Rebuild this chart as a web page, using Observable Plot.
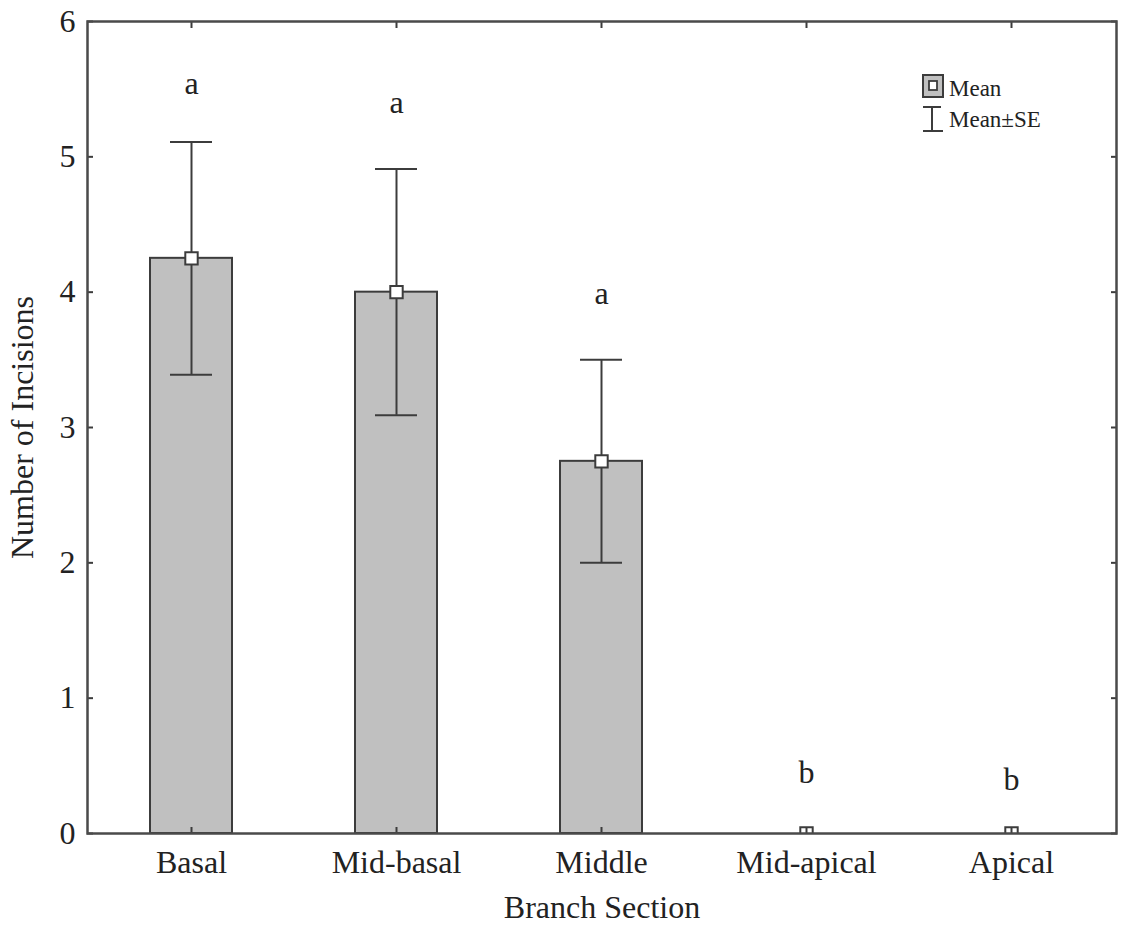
<!DOCTYPE html>
<html>
<head>
<meta charset="utf-8">
<script src="https://cdn.jsdelivr.net/npm/d3@7"></script>
<script src="https://cdn.jsdelivr.net/npm/@observablehq/plot@0.6"></script>
<style>
  html, body { margin: 0; padding: 0; background: #fff; }
  #wrap { position: relative; width: 1121px; height: 926px; }
  #legend { position: absolute; left: 0; top: 0; }
</style>
</head>
<body>
<div id="wrap"></div>
<script>
const sections = ["Basal", "Mid-basal", "Middle", "Mid-apical", "Apical"];
const means = [4.25, 4.0, 2.75, 0, 0];
const seLow = [3.39, 3.09, 2.0, 0, 0];
const seHigh = [5.11, 4.91, 3.5, 0, 0];
const letters = ["a", "a", "a", "b", "b"];
const letterY = [5.54, 5.4, 3.99, 0.45, 0.40];
const yTicks = [0, 1, 2, 3, 4, 5, 6];

const data = sections.map((s, i) => ({
  section: s, mean: means[i], lo: seLow[i], hi: seHigh[i],
  letter: letters[i], ly: letterY[i]
}));
const bars = data.filter(d => d.mean > 0);

const font = "'Liberation Serif', 'Times New Roman', serif";
const dark = "#3c3c3c";

const chart = Plot.plot({
  width: 1121,
  height: 926,
  marginLeft: 87,
  marginRight: 5,
  marginTop: 21,
  marginBottom: 93,
  style: { fontFamily: font, fontSize: "32px", color: "#222", background: "#fff" },
  x: { domain: sections, paddingInner: 0.6, paddingOuter: 0.3 },
  y: { domain: [0, 6] },
  marks: [
    Plot.barY(bars, { x: "section", y: "mean", fill: "#c0c0c0", stroke: dark, strokeWidth: 2 }),
    Plot.ruleX(bars, { x: "section", y1: "lo", y2: "hi", stroke: dark, strokeWidth: 2 }),
    Plot.tickY(bars, { x: "section", y: "lo", stroke: dark, strokeWidth: 2, insetLeft: 20, insetRight: 20 }),
    Plot.tickY(bars, { x: "section", y: "hi", stroke: dark, strokeWidth: 2, insetLeft: 20, insetRight: 20 }),
    Plot.dot(data, { x: "section", y: "mean", symbol: "square", r: 7, fill: "#fff", stroke: dark, strokeWidth: 2, clip: "frame" }),
    Plot.text(data, { x: "section", y: "ly", text: "letter", fontSize: 32, fill: "#222" }),
    Plot.axisY({ anchor: "left", ticks: yTicks, tickFormat: d3.format("d"), tickSize: -6, tickPadding: 18, stroke: dark, strokeWidth: 2,
      label: "Number of Incisions", labelAnchor: "center", labelArrow: "none", labelOffset: 77, fontSize: 32 }),
    Plot.axisY({ anchor: "right", ticks: yTicks, tickSize: -6, tickFormat: () => "", stroke: dark, strokeWidth: 2, label: null }),
    Plot.axisX({ anchor: "top", tickSize: -6, tickFormat: () => "", stroke: dark, strokeWidth: 2, label: null }),
    Plot.axisX({ anchor: "bottom", tickSize: -6, tickPadding: 23, stroke: dark, strokeWidth: 2,
      label: "Branch Section", labelAnchor: "center", labelArrow: "none", labelOffset: 84, fontSize: 32 }),
    Plot.frame({ stroke: "#4a4a4a", strokeWidth: 2.5 })
  ]
});

const wrap = document.getElementById("wrap");
wrap.appendChild(chart);

// legend overlay
const ns = "http://www.w3.org/2000/svg";
const lg = document.createElementNS(ns, "svg");
lg.setAttribute("id", "legend");
lg.setAttribute("width", 1121);
lg.setAttribute("height", 926);
lg.innerHTML = `
  <rect x="923" y="75" width="20" height="22" fill="#c0c0c0" stroke="${dark}" stroke-width="2"/>
  <rect x="929" y="81" width="8" height="9" fill="#fff" stroke="${dark}" stroke-width="1.8"/>
  <text x="949" y="96" font-family="${font}" font-size="23" fill="#222">Mean</text>
  <line x1="932" y1="107" x2="932" y2="131" stroke="${dark}" stroke-width="2"/>
  <line x1="923" y1="107" x2="941" y2="107" stroke="${dark}" stroke-width="2"/>
  <line x1="923" y1="131" x2="943" y2="131" stroke="${dark}" stroke-width="2"/>
  <text x="949" y="127" font-family="${font}" font-size="23" fill="#222">Mean±SE</text>
`;
wrap.appendChild(lg);
</script>
</body>
</html>
